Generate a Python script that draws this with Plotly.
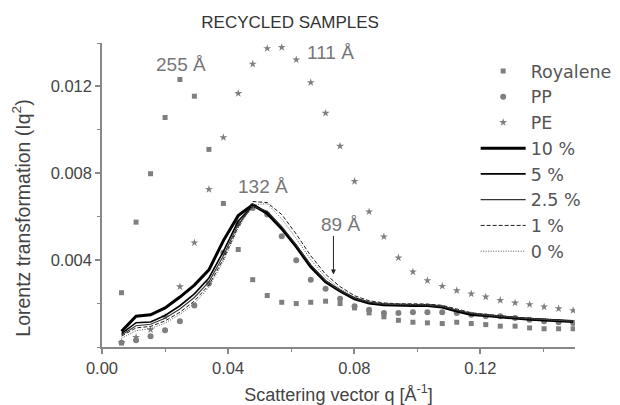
import plotly.graph_objects as go

# Scattering vector q (1/Å)
q = [0.0062, 0.0108, 0.0154, 0.0200, 0.0247, 0.0293, 0.0339, 0.0385, 0.0432, 0.0478,
     0.0524, 0.0570, 0.0616, 0.0662, 0.0709, 0.0755, 0.0801, 0.0847, 0.0894, 0.0940,
     0.0986, 0.1032, 0.1079, 0.1125, 0.1171, 0.1217, 0.1263, 0.1310, 0.1356, 0.1402,
     0.1448, 0.1494]

royalene = [0.00250, 0.00575, 0.00798, 0.01057, 0.01232, 0.01155, 0.00910, 0.00661, 0.00449, 0.00310,
            0.00237, 0.00206, 0.00200, 0.00206, 0.00211, 0.00200, 0.00180, 0.00157, 0.00139, 0.00123,
            0.00114, 0.00111, 0.00108, 0.00114, 0.00108, 0.00103, 0.00096, 0.00096, 0.00088, 0.00084,
            0.00084, 0.00084]

pp = [0.00019, 0.00031, 0.00049, 0.00077, 0.00119, 0.00191, 0.00293, 0.00434, 0.00569, 0.00640,
      0.00610, 0.00510, 0.00400, 0.00310, 0.00268, 0.00222, 0.00188, 0.00172, 0.00157, 0.00157,
      0.00160, 0.00160, 0.00160, 0.00157, 0.00149, 0.00142, 0.00142, 0.00134, 0.00126, 0.00119,
      0.00114, 0.00111]

pe = [0.00020, 0.00045, 0.00080, 0.00140, 0.00278, 0.00480, 0.00726, 0.00965, 0.01168, 0.01303,
      0.01375, 0.01380, 0.01323, 0.01218, 0.01077, 0.00925, 0.00763, 0.00623, 0.00508, 0.00411,
      0.00346, 0.00306, 0.00280, 0.00260, 0.00245, 0.00231, 0.00215, 0.00203, 0.00196, 0.00185,
      0.00177, 0.00168]

blend10 = [0.00072, 0.00142, 0.00148, 0.00180, 0.00230, 0.00285, 0.00355, 0.00490, 0.00605, 0.00655,
           0.00615, 0.00545, 0.00462, 0.00370, 0.00300, 0.00258, 0.00222, 0.00203, 0.00194, 0.00191,
           0.00191, 0.00191, 0.00184, 0.00165, 0.00150, 0.00145, 0.00138, 0.00133, 0.00128, 0.00125,
           0.00121, 0.00117]

blend5 = [0.00062, 0.00112, 0.00115, 0.00145, 0.00190, 0.00245, 0.00318, 0.00440, 0.00580, 0.00650,
          0.00620, 0.00548, 0.00465, 0.00372, 0.00302, 0.00258, 0.00222, 0.00203, 0.00195, 0.00192,
          0.00192, 0.00191, 0.00185, 0.00167, 0.00152, 0.00146, 0.00139, 0.00134, 0.00129, 0.00126,
          0.00122, 0.00118]

blend25 = [0.00055, 0.00098, 0.00105, 0.00132, 0.00175, 0.00228, 0.00300, 0.00420, 0.00565, 0.00648,
           0.00625, 0.00555, 0.00470, 0.00378, 0.00305, 0.00260, 0.00224, 0.00205, 0.00197, 0.00194,
           0.00194, 0.00193, 0.00187, 0.00169, 0.00154, 0.00147, 0.00140, 0.00135, 0.00130, 0.00127,
           0.00123, 0.00119]

blend1 = [0.00050, 0.00088, 0.00095, 0.00120, 0.00160, 0.00212, 0.00285, 0.00405, 0.00555, 0.00670,
          0.00665, 0.00610, 0.00520, 0.00420, 0.00335, 0.00278, 0.00236, 0.00213, 0.00203, 0.00199,
          0.00199, 0.00198, 0.00192, 0.00174, 0.00158, 0.00150, 0.00143, 0.00137, 0.00132, 0.00128,
          0.00124, 0.00120]

blend0 = [0.00040, 0.00075, 0.00085, 0.00110, 0.00150, 0.00200, 0.00275, 0.00395, 0.00548, 0.00655,
          0.00660, 0.00590, 0.00500, 0.00402, 0.00320, 0.00268, 0.00230, 0.00208, 0.00199, 0.00196,
          0.00196, 0.00195, 0.00189, 0.00171, 0.00156, 0.00148, 0.00141, 0.00136, 0.00131, 0.00127,
          0.00123, 0.00119]

x_ticks = [0.00, 0.04, 0.08, 0.12]
x_ticktext = ["0.00", "0.04", "0.08", "0.12"]
y_ticks = [0.004, 0.008, 0.012]
y_ticktext = ["0.004", "0.008", "0.012"]

FONT = "Liberation Sans, Arial, sans-serif"
MARK = "#7f7f7f"

fig = go.Figure()
fig.add_trace(go.Scatter(x=q, y=royalene, mode="markers", name="Royalene",
                         marker=dict(symbol="square", size=5, color=MARK)))
fig.add_trace(go.Scatter(x=q, y=pp, mode="markers", name="PP",
                         marker=dict(symbol="circle", size=6, color=MARK)))
fig.add_trace(go.Scatter(x=q, y=pe, mode="markers", name="PE",
                         marker=dict(symbol="star", size=6, color=MARK)))

line_specs = [
    ("10 %", blend10, dict(color="black", width=3)),
    ("5 %", blend5, dict(color="black", width=1.6)),
    ("2.5 %", blend25, dict(color="#333333", width=1.1)),
    ("1 %", blend1, dict(color="#222222", width=1, dash="4px,2px")),
    ("0 %", blend0, dict(color="#555555", width=1, dash="1px,1.5px")),
]
for name, vals, ln in line_specs:
    fig.add_trace(go.Scatter(x=q, y=vals, mode="lines", name=name, line=ln))

ann_font = dict(family=FONT, size=19, color="#777777")
annotations = [
    dict(x=0.02496, y=0.01303, text="255 Å", showarrow=False, font=ann_font),
    dict(x=0.0724, y=0.01354, text="111 Å", showarrow=False, font=ann_font),
    dict(x=0.0510, y=0.00738, text="132 Å", showarrow=False, font=ann_font),
    dict(x=0.0755, y=0.00564, text="89 Å", showarrow=False, font=ann_font),
    dict(x=0.0734, y=0.00334, text="", showarrow=True, ax=0, ay=-40,
         arrowhead=2, arrowsize=1, arrowwidth=1, arrowcolor="#222222", standoff=0),
    # y-axis title (sits slightly below the plot centre in the reference)
    dict(xref="paper", yref="paper", x=-0.170, y=0.424, xanchor="center", yanchor="middle",
         text="Lorentz transformation (Iq<sup>2</sup>)", textangle=-90, showarrow=False,
         font=dict(family=FONT, size=19.5, color="#444444")),
]

fig.update_layout(
    width=620, height=405,
    margin=dict(l=101.5, r=45, t=43, b=58, autoexpand=False),
    paper_bgcolor="white", plot_bgcolor="white",
    font=dict(family=FONT, size=16, color="#444444"),
    title=dict(text="RECYCLED SAMPLES", x=0.468, xanchor="center", y=0.945, yanchor="middle",
               font=dict(family=FONT, size=17, color="#333333")),
    showlegend=True,
    legend=dict(x=0.790, xanchor="left", y=0.967, yanchor="top",
                bgcolor="rgba(0,0,0,0)",
                font=dict(family="DejaVu Sans, Liberation Sans, sans-serif", size=17.5,
                          color="#555555"),
                itemwidth=45, tracegroupgap=0),
    annotations=annotations,
)

fig.update_xaxes(
    range=[0, 0.15], showline=True, linecolor="#888888", linewidth=1.5,
    ticks="outside", ticklen=5, tickcolor="#888888", tickwidth=1.5,
    tickmode="array", tickvals=x_ticks, ticktext=x_ticktext,
    minor=dict(tickmode="linear", tick0=0, dtick=0.02, ticks="outside", ticklen=3,
               tickcolor="#888888", tickwidth=1.2),
    showgrid=False, zeroline=False, automargin=False,
    tickfont=dict(family=FONT, size=16.5, color="#444444"),
    title=dict(text="Scattering vector q [Å<sup>-1</sup>]", standoff=13,
               font=dict(family=FONT, size=18, color="#444444")),
)
fig.update_yaxes(
    range=[0, 0.014], showline=True, linecolor="#888888", linewidth=1.5,
    ticks="outside", ticklen=5, tickcolor="#888888", tickwidth=1.5,
    tickmode="array", tickvals=y_ticks, ticktext=y_ticktext,
    minor=dict(tickmode="linear", tick0=0, dtick=0.002, ticks="outside", ticklen=3,
               tickcolor="#888888", tickwidth=1.2),
    showgrid=False, zeroline=False, automargin=False,
    tickfont=dict(family=FONT, size=16.5, color="#444444"),
)

fig.write_html("out.html")
